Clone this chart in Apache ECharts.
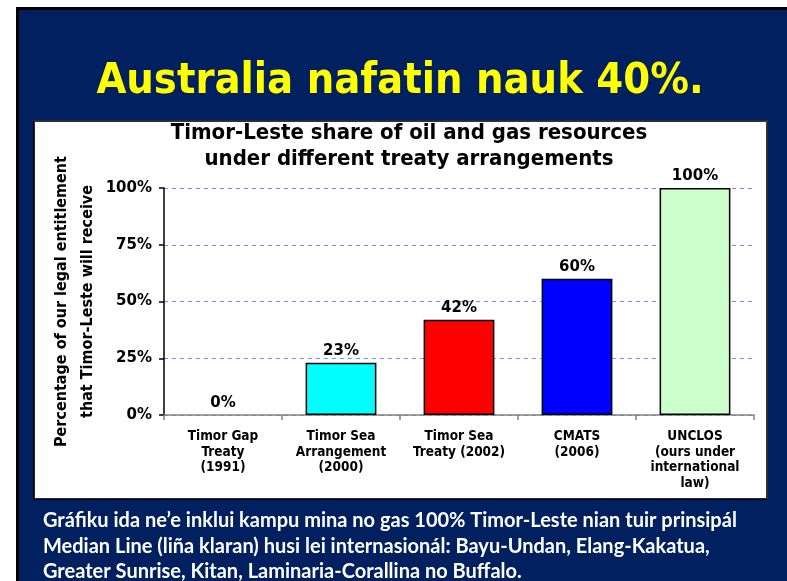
<!DOCTYPE html>
<html>
<head>
<meta charset="utf-8">
<script src="https://cdn.jsdelivr.net/npm/echarts@6/dist/echarts.min.js"></script>
<style>
html, body { margin: 0; padding: 0; background: #fff; }
#main { width: 787px; height: 581px; }
</style>
</head>
<body>
<div id="main"></div>
<script>
var treaties = ['Timor Gap\nTreaty\n(1991)', 'Timor Sea\nArrangement\n(2000)', 'Timor Sea\nTreaty (2002)', 'CMATS\n(2006)', 'UNCLOS\n(ours under\ninternational\nlaw)']
var shares = [0, 23, 42, 60, 100]
var barColors = ['#FFFFFF', '#00FFFF', '#FF0000', '#0000FF', '#CCFFCC']
var yTicks = [0, 25, 50, 75, 100]

var slideTitle = 'Australia nafatin nauk 40%.'
var chartTitle = 'Timor-Leste share of oil and gas resources\nunder different treaty arrangements'
var yName = 'Percentage of our legal entitlement\nthat Timor-Leste will receive'
var caption = 'Gráfiku ida ne\u2019e inklui kampu mina no gas 100% Timor-Leste nian tuir prinsipál\n' +
	'Median Line (liña klaran) husi lei internasionál: Bayu-Undan, Elang-Kakatua,\n' +
	'Greater Sunrise, Kitan, Laminaria-Corallina no Buffalo.'

var condFont = '"DejaVu Sans Condensed", "DejaVu Sans", sans-serif'
var wideFont = '"DejaVu Sans", sans-serif'

var chart = echarts.init(document.getElementById('main'))

var option = {
	animation: false,
	backgroundColor: '#ffffff',
	graphic: [
		{ // slide background
			type: 'rect', z: -20,
			shape: { x: 17.5, y: 8.5, width: 780, height: 590 },
			style: { fill: '#002060', stroke: '#000', lineWidth: 3 }
		},
		{ // chart box
			type: 'rect', z: -10,
			shape: { x: 34.5, y: 120.5, width: 733, height: 378 },
			style: { fill: '#fff', stroke: '#2a2a2a', lineWidth: 1, shadowColor: 'rgba(0,0,0,0.8)', shadowOffsetX: -1, shadowOffsetY: 1 }
		},
		{
			type: 'text', z: 5, x: 400, y: 82,
			style: { text: slideTitle, fill: '#FFFF00', font: 'bold 43px ' + condFont, align: 'center', verticalAlign: 'middle' }
		},
		{
			type: 'text', z: 5, left: 43, top: 508,
			style: { text: caption, fill: '#fff', font: 'bold 20px Lato, sans-serif', lineHeight: 25.5 }
		}
	],
	title: {
		text: chartTitle,
		left: 404,
		textAlign: 'center',
		top: 115,
		textStyle: { fontFamily: condFont, fontWeight: 'bold', fontSize: 22, lineHeight: 26, color: '#000' }
	},
	grid: { left: 164, right: 33, top: 188, bottom: 166 },
	xAxis: {
		type: 'category',
		data: treaties,
		axisLine: { lineStyle: { color: '#808080', width: 1.5 } },
		axisTick: { show: true, length: 5, lineStyle: { color: '#808080', width: 1.5 } },
		axisLabel: { margin: 14, color: '#000', fontFamily: condFont, fontWeight: 'bold', fontSize: 13.5, lineHeight: 15.5, interval: 0 }
	},
	yAxis: {
		type: 'value',
		min: 0, max: 100, interval: 25,
		name: yName,
		nameLocation: 'middle',
		nameRotate: 90,
		nameGap: 63,
		nameMoveOverlap: false,
		nameTextStyle: { fontFamily: condFont, fontWeight: 'bold', fontSize: 16, lineHeight: 26, color: '#000' },
		axisLine: { show: true, lineStyle: { color: '#000', width: 1.5 } },
		axisTick: { show: true, length: 5, lineStyle: { color: '#000', width: 1.5 } },
		axisLabel: {
			margin: 12, color: '#000', fontFamily: wideFont, fontWeight: 'bold', fontSize: 15,
			formatter: function (v) { return yTicks.indexOf(v) >= 0 ? v + '%' : '' }
		},
		splitLine: { show: true, lineStyle: { color: '#7090FF', type: [4, 4], width: 1 } }
	},
	series: [{
		type: 'bar',
		barWidth: '60%',
		data: shares.map(function (v, i) {
			return { value: v, itemStyle: { color: barColors[i], borderColor: v > 0 ? '#000' : 'transparent', borderWidth: 1.5 } }
		}),
		label: {
			show: true, position: 'top', distance: 4,
			color: '#000', fontFamily: wideFont, fontWeight: 'bold', fontSize: 15,
			formatter: '{c}%'
		}
	}]
}

chart.setOption(option)
</script>
</body>
</html>
